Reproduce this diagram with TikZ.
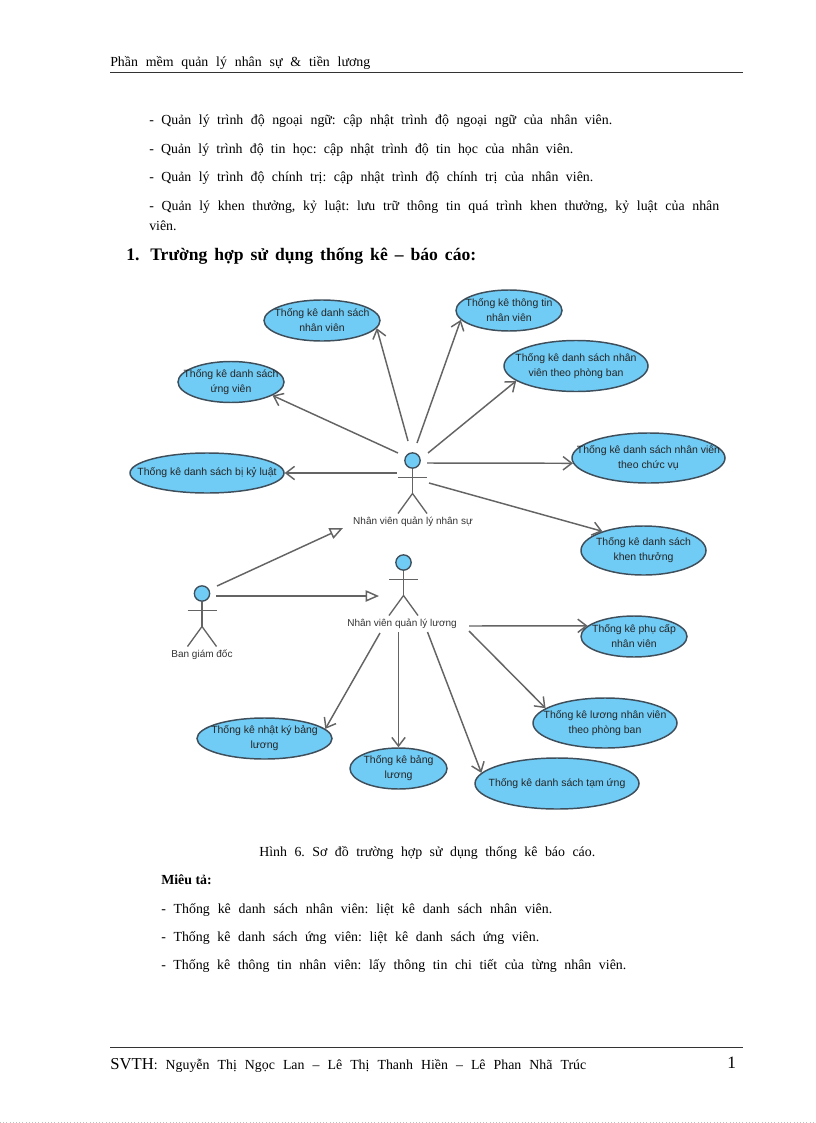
\documentclass[tikz,border=0pt]{standalone}
\usepackage{xcolor}
\usepackage{fontspec}
\setmainfont{Liberation Serif}
\setsansfont{Liberation Sans}
\usetikzlibrary{shapes.geometric, arrows.meta}
\definecolor{caseblue}{RGB}{112,203,245}
\definecolor{caseline}{RGB}{62,78,90}
\definecolor{linkgray}{RGB}{100,100,100}
\newlength{\pxunit}
\setlength{\pxunit}{0.75pt}
\newcommand{\spreadline}[2]{\makebox[#1\pxunit][s]{\frenchspacing #2}}

\begin{document}
\begin{tikzpicture}[
  x=0.75pt, y=-0.75pt,
  usecase/.style n args={3}{ellipse, draw=caseline, fill=caseblue, line width=1.1pt, inner sep=0pt, minimum width=#1*0.75pt, minimum height=#2*0.75pt, label={[casetext]center:#3}},
  casetext/.style={align=center, inner sep=0pt, text=black!85, font=\sffamily\fontsize{7.85}{11.25}\selectfont},
  actorlabel/.style={inner sep=0pt, text=black!80, font=\sffamily\fontsize{7.5}{9}\selectfont},
  actorline/.style={draw=linkgray, line width=1pt},
  actorhead/.style={circle, draw=caseline, fill=caseblue, line width=1pt, inner sep=0pt, minimum size=11.5pt},
  actor/.pic={
    \node[actorhead] (head) at (0,0) {};
    \coordinate (hip) at (0,33);
    \draw[actorline] (head) -- (hip);
    \draw[actorline] (-14.5,17) -- (14.5,17);
    \draw[actorline] (-14.5,53) -- (hip) -- (14.5,53);
  },
  usearrow/.style={-{Straight Barb[length=6.5pt, width=10pt]}, draw=linkgray, line width=1.1pt},
  inherit/.style={-{Triangle[open, fill=white, length=10pt, width=8.5pt]}, draw=linkgray, line width=1.1pt},
  bodytext/.style={anchor=base west, inner sep=0pt, font=\fontsize{10.4}{12}\selectfont},
  pagerule/.style={draw=black!80, line width=1.3pt},
]
\useasboundingbox (0,0) rectangle (816,1123);

% page text
\node[bodytext] (header) at (110,67) {\spreadline{260}{Phần mềm quản lý nhân sự \& tiền lương}};
\node[bodytext] (lineA) at (149,125) {\spreadline{463}{- Quản lý trình độ ngoại ngữ: cập nhật trình độ ngoại ngữ của nhân viên.}};
\node[bodytext] (lineB) at (149,154) {\spreadline{424}{- Quản lý trình độ tin học: cập nhật trình độ tin học của nhân viên.}};
\node[bodytext] (lineC) at (149,182) {\spreadline{444}{- Quản lý trình độ chính trị: cập nhật trình độ chính trị của nhân viên.}};
\node[bodytext] (lineD) at (149,210) {\spreadline{570}{- Quản lý khen thưởng, kỷ luật: lưu trữ thông tin quá trình khen thưởng, kỷ luật của nhân}};
\node[bodytext] (lineE) at (149,230) {viên.};
\node[bodytext, font=\bfseries\fontsize{13.2}{14}\selectfont] (secnum) at (126,260) {1.};
\node[bodytext, font=\bfseries\fontsize{13.2}{14}\selectfont] (section) at (150,260) {\spreadline{326}{Trường hợp sử dụng thống kê – báo cáo:}};
\node[bodytext] (caption) at (259,856) {\spreadline{336}{Hình 6. Sơ đồ trường hợp sử dụng thống kê báo cáo.}};
\node[bodytext, font=\bfseries\fontsize{10.4}{12}\selectfont] (mieuta) at (161,884) {Miêu tả:};
\node[bodytext] (descA) at (161,913) {\spreadline{391}{- Thống kê danh sách nhân viên: liệt kê danh sách nhân viên.}};
\node[bodytext] (descB) at (161,941) {\spreadline{378}{- Thống kê danh sách ứng viên: liệt kê danh sách ứng viên.}};
\node[bodytext] (descC) at (161,969) {\spreadline{465}{- Thống kê thông tin nhân viên: lấy thông tin chi tiết của từng nhân viên.}};
\node[bodytext] (footer) at (110,1069) {\spreadline{476}{{\fontsize{12.5}{12}\selectfont SVTH}: Nguyễn Thị Ngọc Lan – Lê Thị Thanh Hiền – Lê Phan Nhã Trúc}};
\node[bodytext, font=\fontsize{13}{13}\selectfont] (pagenum) at (727,1068) {1};
\draw[pagerule] (110,72.5) -- (743,72.5);
\draw[pagerule] (110,1047.5) -- (743,1047.5);
\draw[dotted, draw=black!25] (0,1122) -- (816,1122);

% use cases
\node[usecase={116}{41}{Thống kê danh sách\\nhân viên}] (dsnv) at (322,320.5) {};
\node[usecase={106}{41}{Thống kê danh sách\\ứng viên}] (ungvien) at (231,382) {};
\node[usecase={154}{40}{Thống kê danh sách bị kỷ luật}] (kyluat) at (207,473) {};
\node[usecase={106}{41}{Thống kê thông tin\\nhân viên}] (thongtin) at (509,310.5) {};
\node[usecase={144}{51}{Thống kê danh sách nhân\\viên theo phòng ban}] (phongban) at (576,366) {};
\node[usecase={153}{50}{Thống kê danh sách nhân viên\\theo chức vụ}] (chucvu) at (648.5,458) {};
\node[usecase={125}{49}{Thống kê danh sách\\khen thưởng}] (khenthuong) at (643.5,550.5) {};
\node[usecase={106}{41}{Thống kê phụ cấp\\nhân viên}] (phucap) at (634,636.5) {};
\node[usecase={144}{50}{Thống kê lương nhân viên\\theo phòng ban}] (luongpb) at (605,723) {};
\node[usecase={164}{51}{Thống kê danh sách tạm ứng}] (tamung) at (557,783.5) {};
\node[usecase={135}{41}{Thống kê nhật ký bảng\\lương}] (nhatky) at (264.5,738.5) {};
\node[usecase={97}{41}{Thống kê bảng\\lương}] (bangluong) at (398.5,768.5) {};

% actors
\pic (qlns) at (412.5,460.5) {actor};
\pic (qll) at (403.5,562.5) {actor};
\pic (bgd) at (202,593.5) {actor};
\node[actorlabel] (qlnsname) at (413,522) {Nhân viên quản lý nhân sự};
\node[actorlabel] (qllname) at (402,624) {Nhân viên quản lý lương};
\node[actorlabel] (bgdname) at (202,655) {Ban giám đốc};

% free ends round the actors
\coordinate (nsA) at (408,441);
\coordinate (nsB) at (398,453);
\coordinate (nsC) at (397,473);
\coordinate (nsD) at (417,443);
\coordinate (nsE) at (428,453);
\coordinate (nsF) at (427,463);
\coordinate (nsG) at (429,483);
\coordinate (nsTip) at (343,528);
\coordinate (lgA) at (380,633);
\coordinate (lgB) at (398.5,632);
\coordinate (lgC) at (427.5,632);
\coordinate (lgD) at (469,626);
\coordinate (lgE) at (469,631);
\coordinate (lgTip) at (379,596);
\coordinate (bdA) at (217,586);
\coordinate (bdB) at (216,596);

\draw[usearrow] (nsA) -- (dsnv.-8);
\draw[usearrow] (nsB) -- (ungvien.-18);
\draw[usearrow] (nsC) -- (kyluat.east);
\draw[usearrow] (nsD) -- (thongtin.191);
\draw[usearrow] (nsE) -- (phongban.194);
\draw[usearrow] (nsF) -- (chucvu.184);
\draw[usearrow] (nsG) -- (khenthuong.155);
\draw[usearrow] (lgA) -- (nhatky.9);
\draw[usearrow] (lgB) -- (bangluong.north);
\draw[usearrow] (lgC) -- (tamung.172);
\draw[usearrow] (lgD) -- (phucap.167);
\draw[usearrow] (lgE) -- (luongpb.166);
\draw[inherit] (bdA) -- (nsTip);
\draw[inherit] (bdB) -- (lgTip);

\end{tikzpicture}
\end{document}
